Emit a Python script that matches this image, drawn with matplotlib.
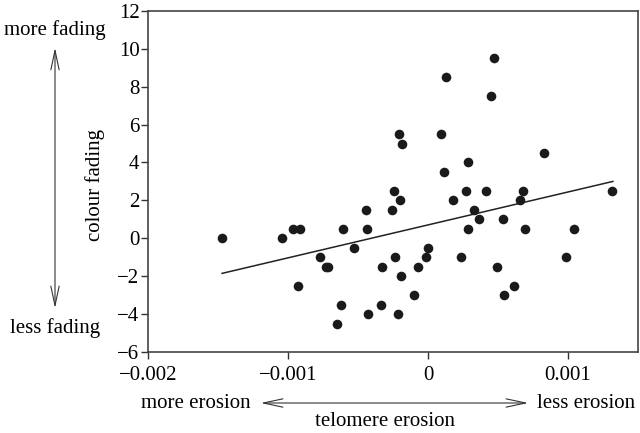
import numpy as np
from matplotlib import pyplot as plt

# telomere erosion (x) vs colour fading (y)
erosion = [0.000471, 0.000129, 0.000449, -0.000208, -0.000188, 0.000093, 0.000827,
           0.000284, 0.000112, -0.000246, 0.000275, 0.000413, 0.000678, 0.001314,
           -0.000203, -0.000260, 0.000179, 0.000657, 0.000332, 0.000366, 0.000537,
           0.000289, 0.000690, 0.001039, 0.000003, -0.000234, -0.000017, 0.000239,
           0.000984, -0.000327, -0.000069, 0.000494, -0.000196, 0.000614, -0.000097,
           0.000542, -0.000334, -0.000217, -0.001473, -0.001043, -0.000964, -0.000917,
           -0.000609, -0.000437, -0.000446, -0.000530, -0.000774, -0.000728, -0.000713,
           -0.000931, -0.000623, -0.000430, -0.000652]
fading = [9.5, 8.5, 7.5, 5.5, 5.0, 5.5, 4.5,
          4.0, 3.5, 2.5, 2.5, 2.5, 2.5, 2.5,
          2.0, 1.5, 2.0, 2.0, 1.5, 1.0, 1.0,
          0.5, 0.5, 0.5, -0.5, -1.0, -1.0, -1.0,
          -1.0, -1.5, -1.5, -1.5, -2.0, -2.5, -3.0,
          -3.0, -3.5, -4.0, 0.0, 0.0, 0.5, 0.5,
          0.5, 0.5, 1.5, -0.5, -1.0, -1.5, -1.5,
          -2.5, -3.5, -4.0, -4.5]

# regression line ends
fit_x = [-0.00147, 0.00132]
fit_y = [-1.85, 3.0]

xticks = [-0.002, -0.001, 0, 0.001]
xlabels = ['\u22120.002', '\u22120.001', '0', '0.001']
yticks = list(range(-6, 13, 2))
ylabels = [('\u2212' + str(-t)) if t < 0 else str(t) for t in yticks]

plt.rcParams['font.family'] = ['Liberation Serif', 'DejaVu Serif']

fig = plt.figure(figsize=(6.4, 4.33), dpi=100)
ax = fig.add_axes([0.231, 0.187, 0.766, 0.788])

ax.scatter(erosion, fading, s=48, color='#1a1a1a', zorder=3, linewidths=0)
ax.plot(fit_x, fit_y, color='#222222', lw=1.1)

ax.set_xlim(-0.002, 0.0015)
ax.set_ylim(-6, 12)
ax.set_xticks(xticks)
ax.set_xticklabels(xlabels)
ax.set_yticks(yticks)
ax.set_yticklabels(ylabels)
ax.tick_params(labelsize=15, length=5, width=1, color='#333333')
ax.tick_params(axis='x', pad=5)
ax.tick_params(axis='y', pad=1)
for sp in ax.spines.values():
    sp.set_color('#444444')
    sp.set_linewidth(1.2)

H = 433
def fy(py):
    return H - py

# y-axis annotations
fig.text(55, fy(30), 'more fading', transform=None, ha='center', va='center', fontsize=15)
fig.text(55, fy(328), 'less fading', transform=None, ha='center', va='center', fontsize=15)
fig.text(95, fy(185), 'colour fading', transform=None, ha='center', va='center',
         rotation=90, fontsize=15)
ax.annotate('', xy=(55, fy(45)), xytext=(55, fy(311)), xycoords='figure pixels',
            textcoords='figure pixels',
            arrowprops=dict(arrowstyle='<->,head_length=1.4,head_width=0.3',
                            lw=0.8, color='#333333'))

# x-axis annotations
fig.text(196, fy(403), 'more erosion', transform=None, ha='center', va='center', fontsize=15)
fig.text(586, fy(403), 'less erosion', transform=None, ha='center', va='center', fontsize=15)
fig.text(385, fy(421), 'telomere erosion', transform=None, ha='center', va='center', fontsize=15)
ax.annotate('', xy=(258, fy(403)), xytext=(531, fy(403)), xycoords='figure pixels',
            textcoords='figure pixels',
            arrowprops=dict(arrowstyle='<->,head_length=1.4,head_width=0.3',
                            lw=0.8, color='#333333'))

fig.savefig('out.png', dpi=100)
